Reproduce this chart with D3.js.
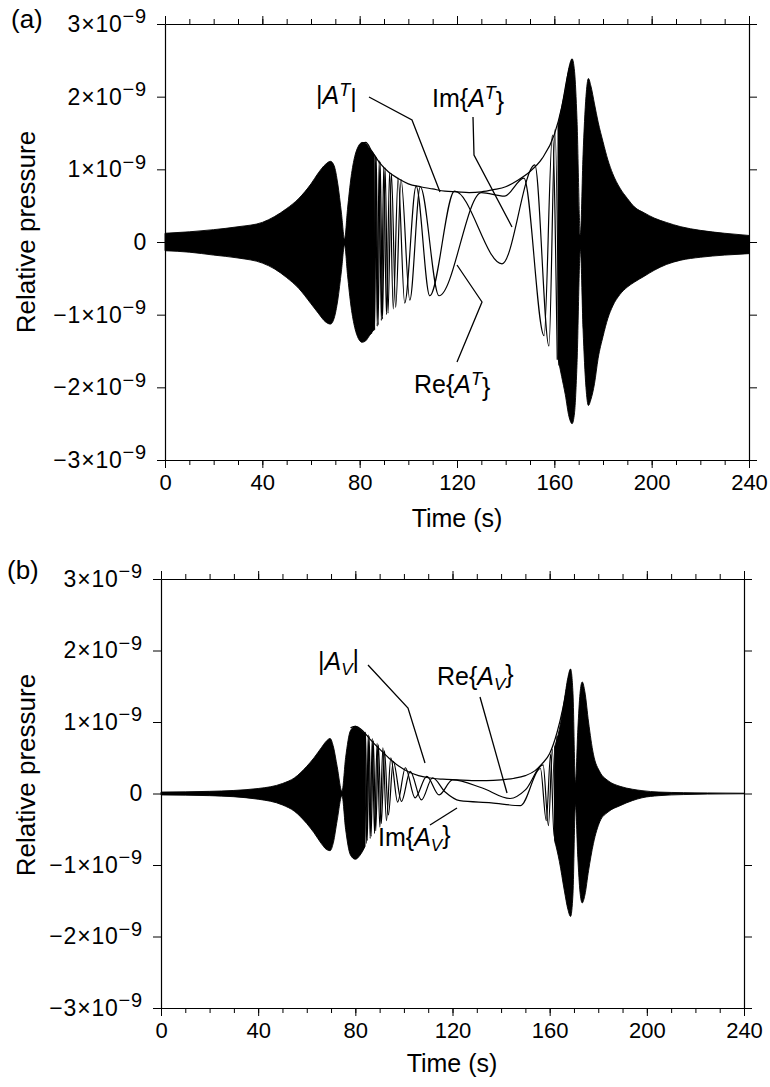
<!DOCTYPE html>
<html>
<head>
<meta charset="utf-8">
<script src="https://cdn.jsdelivr.net/npm/d3@7"></script>
<style>
  body { margin: 0; background: #fff; }
  svg text { font-family: "Liberation Sans", Arial, sans-serif; fill: #000; }
</style>
</head>
<body>
<svg id="chart" width="770" height="1087"></svg>
<script>
'use strict';

// values in units of 1e-9 (relative pressure), time in s
const timeTicks = [0, 40, 80, 120, 160, 200, 240];
const timeMinor = d3.range(0, 241, 10);
const pressureTicks = [-3, -2, -1, 0, 1, 2, 3];

// ---- panel (a) ----
const aLeftT  = [0, 10, 20, 30, 40, 45, 50, 55, 60, 63, 66, 68, 69.5, 71, 72.5, 73.8, 75, 76.5, 78, 79.5, 81, 82.5, 84, 86];
const aLeftUp = [0.12, 0.14, 0.17, 0.21, 0.27, 0.35, 0.46, 0.6, 0.8, 0.95, 1.07, 1.11, 1.05, 0.8, 0.4, 0.04, 0.45, 0.9, 1.18, 1.32, 1.37, 1.36, 1.29, 1.2];
const aLeftLo = [-0.12, -0.14, -0.18, -0.22, -0.29, -0.37, -0.49, -0.64, -0.85, -0.98, -1.1, -1.13, -1.05, -0.8, -0.4, -0.04, -0.45, -0.9, -1.18, -1.33, -1.38, -1.36, -1.29, -1.2];

const aRightT  = [161.5, 163, 164.5, 166, 167.3, 168.3, 169.3, 170.7, 171.8, 173, 174, 175, 176.5, 178, 180, 182, 184, 187, 190, 193, 197, 201, 206, 212, 220, 230, 240];
const aRightUp = [1.6, 1.85, 2.1, 2.4, 2.52, 2.35, 1.7, 0.1, 1.2, 2.0, 2.25, 2.15, 1.9, 1.65, 1.38, 1.13, 0.94, 0.74, 0.6, 0.48, 0.4, 0.33, 0.27, 0.21, 0.16, 0.12, 0.09];
const aRightLo = [-1.6, -1.85, -2.1, -2.4, -2.5, -2.35, -1.7, -0.1, -1.2, -2.0, -2.25, -2.17, -1.95, -1.6, -1.3, -1.05, -0.88, -0.72, -0.62, -0.55, -0.47, -0.39, -0.31, -0.25, -0.21, -0.18, -0.16];

const aAbsT = [81, 82.5, 85, 88, 92, 96, 100, 105, 110, 115, 120, 125, 130, 135, 140, 145, 150, 155, 160, 163, 165.5, 167.3];
const aAbsV = [1.36, 1.37, 1.25, 1.1, 0.96, 0.87, 0.8, 0.76, 0.73, 0.7, 0.69, 0.68, 0.69, 0.72, 0.76, 0.85, 0.97, 1.15, 1.48, 1.85, 2.3, 2.52];

const aImT = [84.0, 84.6, 85.2, 85.8, 86.5, 87.2, 88.0, 88.9, 89.9, 91.0, 92.3, 93.8, 95.8, 98.5, 103.2, 108.8, 119, 138.5, 152, 157.8, 160.3, 161.9];
const aImV = [1.29, -1.27, 1.24, -1.22, 1.19, -1.16, 1.12, -1.08, 1.04, -1.0, 0.96, -0.92, 0.88, -0.84, 0.77, -0.74, 0.7, -0.3, 1.06, -1.43, 1.55, -1.7];
const aReT = [84.3, 84.9, 85.5, 86.15, 86.85, 87.6, 88.45, 89.4, 90.45, 91.65, 93.05, 94.8, 97.0, 100.6, 104.9, 112.6, 130, 139.5, 147.5, 155.8, 159.2, 161.2];
const aReV = [1.28, -1.26, 1.23, -1.21, 1.17, -1.14, 1.1, -1.06, 1.02, -0.98, 0.94, -0.9, 0.86, -0.8, 0.76, -0.74, 0.68, 0.63, 0.88, -1.29, 1.47, -1.62];

// ---- panel (b) ----
const bLeftT  = [0, 20, 40, 50, 55, 60, 63, 66, 68, 69.6, 71, 72.5, 74.5, 76, 78, 80, 82, 84];
const bLeftUp = [0.02, 0.03, 0.07, 0.14, 0.22, 0.38, 0.5, 0.64, 0.73, 0.77, 0.65, 0.38, 0.03, 0.5, 0.88, 0.94, 0.9, 0.84];
const bLeftLo = [-0.02, -0.03, -0.08, -0.16, -0.25, -0.42, -0.55, -0.7, -0.78, -0.8, -0.68, -0.38, -0.03, -0.5, -0.86, -0.92, -0.86, -0.74];

const bRightT  = [162, 164, 166, 167.5, 168.6, 169.6, 170.6, 171.6, 172.5, 173.4, 174.5, 176, 178, 180.7, 184, 189, 194, 198, 205, 215, 225, 240];
const bRightUp = [0.65, 0.9, 1.3, 1.62, 1.74, 1.4, 0.15, 0.9, 1.4, 1.56, 1.42, 1.0, 0.55, 0.3, 0.18, 0.1, 0.06, 0.04, 0.02, 0.012, 0.008, 0.004];
const bRightLo = [-0.65, -0.95, -1.35, -1.62, -1.72, -1.4, -0.15, -0.9, -1.38, -1.53, -1.42, -1.08, -0.7, -0.39, -0.26, -0.17, -0.1, -0.06, -0.03, -0.015, -0.008, -0.004];

const bAbsT = [78, 80, 83, 86, 90, 94, 98, 102, 106, 110, 116, 122, 128, 134, 140, 145, 150, 154, 157, 160, 163, 165.5, 167.5, 168.6];
const bAbsV = [0.92, 0.94, 0.88, 0.76, 0.62, 0.49, 0.38, 0.3, 0.25, 0.22, 0.2, 0.19, 0.18, 0.18, 0.19, 0.21, 0.25, 0.32, 0.42, 0.56, 0.85, 1.2, 1.55, 1.74];

const bImT = [83.5, 84.2, 84.9, 85.7, 86.5, 87.4, 88.4, 89.5, 90.7, 92.0, 93.6, 95.6, 99.0, 102.6, 107.2, 111.8, 117.0, 123, 136, 148, 156.2, 158.6, 160.4, 161.8, 163];
const bImV = [-0.72, 0.86, -0.66, 0.8, -0.6, 0.74, -0.52, 0.68, -0.42, 0.6, -0.3, 0.45, -0.11, 0.31, -0.09, 0.22, 0.02, -0.1, -0.13, -0.17, 0.35, -0.38, 0.55, -0.6, 0.8];
const bReT = [83.8, 84.55, 85.3, 86.1, 86.95, 87.9, 88.95, 90.1, 91.35, 92.8, 94.6, 97.4, 100.6, 104.6, 109.4, 114.5, 120, 132, 143.7, 150, 157.3, 159.5, 161.1, 162.4];
const bReV = [0.85, -0.7, 0.82, -0.63, 0.77, -0.56, 0.7, -0.47, 0.64, -0.38, 0.5, -0.12, 0.36, -0.06, 0.24, -0.02, 0.19, 0.08, -0.07, 0.05, 0.4, -0.45, 0.62, -0.7];

const svg = d3.select('#chart');

function zip(ts, vs) { return ts.map((t, i) => [t, vs[i]]); }

function drawPanel(p) {
  let x = d3.scaleLinear().domain([0, 240]).range([p.left, p.right]);
  let y = d3.scaleLinear().domain([-3, 3]).range([p.bottom, p.top]);
  let g = svg.append('g');

  // dense oscillation drawn as filled envelope
  let area = d3.area()
    .x(d => x(d.t)).y0(d => y(d.lo)).y1(d => y(d.up))
    .curve(d3.curveMonotoneX);
  p.fills.forEach(f => {
    let rows = f.t.map((t, i) => ({t: t, up: f.up[i], lo: f.lo[i]}));
    g.append('path').datum(rows).attr('d', area)
      .attr('fill', '#000').attr('stroke', '#000').attr('stroke-width', 0.9);
  });

  let line = d3.line().x(d => x(d[0])).y(d => y(d[1])).curve(d3.curveMonotoneX);
  p.lines.forEach(l => {
    g.append('path').datum(zip(l[0], l[1])).attr('d', line)
      .attr('fill', 'none').attr('stroke', '#000').attr('stroke-width', 1.2);
  });

  // axes on all four sides, ticks outward
  let styleAxis = sel => {
    sel.selectAll('path.domain').attr('stroke', '#000').attr('stroke-width', 1.2);
    sel.selectAll('.tick line').attr('stroke', '#000').attr('stroke-width', 1);
    sel.selectAll('text').attr('font-size', 22).attr('font-family', '"Liberation Sans", Arial, sans-serif');
  };
  g.append('g').attr('transform', `translate(0,${p.bottom})`)
    .call(d3.axisBottom(x).tickValues(timeMinor).tickSize(5).tickFormat('').tickSizeOuter(0)).call(styleAxis);
  g.append('g').attr('transform', `translate(0,${p.bottom})`)
    .call(d3.axisBottom(x).tickValues(timeTicks).tickSize(8).tickPadding(6).tickSizeOuter(0)).call(styleAxis);
  g.append('g').attr('transform', `translate(0,${p.top})`)
    .call(d3.axisTop(x).tickValues(timeMinor).tickSize(5).tickFormat('').tickSizeOuter(0)).call(styleAxis);
  g.append('g').attr('transform', `translate(0,${p.top})`)
    .call(d3.axisTop(x).tickValues(timeTicks).tickSize(8).tickFormat('').tickSizeOuter(0)).call(styleAxis);
  g.append('g').attr('transform', `translate(${p.right},0)`)
    .call(d3.axisRight(y).tickValues(pressureTicks).tickSize(8).tickFormat('').tickSizeOuter(0)).call(styleAxis);
  let yAx = g.append('g').attr('transform', `translate(${p.left},0)`)
    .call(d3.axisLeft(y).tickValues(pressureTicks).tickSize(8).tickPadding(10).tickSizeOuter(0)).call(styleAxis);

  yAx.selectAll('.tick text').attr('font-size', 23).attr('letter-spacing', 0.8).each(function(d) {
    let t = d3.select(this).text(null);
    if (d === 0) { t.text('0'); return; }
    t.append('tspan').text((d < 0 ? '\u2212' : '') + Math.abs(d) + '\u00d710');
    t.append('tspan').attr('dy', '-0.42em').attr('font-size', 20).text('\u22129');
  });

  svg.append('text').attr('transform', `translate(35,${p.ymid}) rotate(-90)`)
    .attr('text-anchor', 'middle').attr('font-size', 26).text('Relative pressure');
  svg.append('text').attr('x', p.xmid).attr('y', p.titleY)
    .attr('text-anchor', 'middle').attr('font-size', 25).text('Time (s)');
  svg.append('text').attr('x', p.tagX).attr('y', p.tagY).attr('font-size', 26).text(p.tag);

  // annotations with leader lines
  p.notes.forEach(n => {
    let t = svg.append('text').attr('x', n.x).attr('y', n.y).attr('font-size', 25);
    n.parts.forEach(s => {
      let ts = t.append('tspan').text(s.s);
      if (s.it) ts.attr('font-style', 'italic');
      if (s.dy) ts.attr('dy', s.dy);
      if (s.fs) ts.attr('font-size', s.fs);
    });
    svg.append('path').attr('d', d3.line()(n.lead))
      .attr('fill', 'none').attr('stroke', '#000').attr('stroke-width', 1.3);
  });
}

function supNote(pre, x, y, lead) {
  return {x: x, y: y, lead: lead, parts: [
    {s: pre}, {s: 'A', it: true}, {s: 'T', it: true, dy: '-0.45em', fs: 18},
    {s: pre === '|' ? '|' : '}', dy: '0.45em'}]};
}
function subNote(pre, x, y, lead) {
  return {x: x, y: y, lead: lead, parts: [
    {s: pre}, {s: 'A', it: true}, {s: 'V', it: true, dy: '0.3em', fs: 17},
    {s: pre === '|' ? '|' : '}', dy: '-0.3em'}]};
}

drawPanel({
  left: 165, right: 749, top: 24, bottom: 460, ymid: 232, xmid: 457, titleY: 527,
  tag: '(a)', tagX: 11, tagY: 28,
  fills: [{t: aLeftT, up: aLeftUp, lo: aLeftLo}, {t: aRightT, up: aRightUp, lo: aRightLo}],
  lines: [[aAbsT, aAbsV], [aImT, aImV], [aReT, aReV]],
  notes: [
    supNote('|', 316, 104, [[369, 97], [412, 120], [440, 192]]),
    supNote('Im{', 432, 107, [[473, 117], [474, 155], [512, 227]]),
    supNote('Re{', 414, 393, [[457, 362], [482, 302], [457, 265]])
  ]
});

drawPanel({
  left: 161, right: 744, top: 579, bottom: 1008, ymid: 775, xmid: 452, titleY: 1072,
  tag: '(b)', tagX: 7, tagY: 579,
  fills: [{t: bLeftT, up: bLeftUp, lo: bLeftLo}, {t: bRightT, up: bRightUp, lo: bRightLo}],
  lines: [[bAbsT, bAbsV], [bImT, bImV], [bReT, bReV]],
  notes: [
    subNote('|', 318, 670, [[368, 665], [408, 708], [425, 763]]),
    subNote('Re{', 437, 685, [[480, 697], [507, 793]]),
    subNote('Im{', 378, 846, [[430, 825], [457, 808]])
  ]
});
</script>
</body>
</html>
